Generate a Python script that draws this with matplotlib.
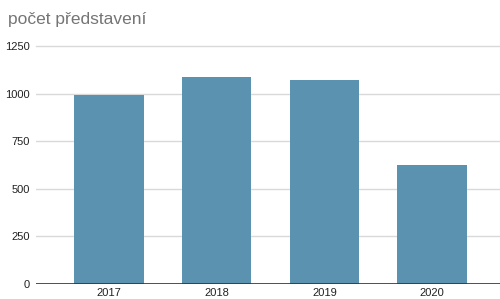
import matplotlib.pyplot as plt

years = ["2017", "2018", "2019", "2020"]
performances = [993, 1085, 1071, 626]
y_ticks = [0, 250, 500, 750, 1000, 1250]

plt.rcParams["font.family"] = ["Liberation Sans", "DejaVu Sans"]

fig = plt.figure(figsize=(5.0, 2.99), dpi=100)
ax = fig.add_axes([0.0714, 0.0502, 0.9286, 0.7958])

x = range(len(years))
ax.bar(x, performances, width=0.643, color="#5a92b0", zorder=2)

ax.set_xlim(-0.68, 3.63)
ax.set_ylim(0, 1250)
ax.set_yticks(y_ticks)
ax.set_xticks(list(x))
ax.set_xticklabels(years)
ax.yaxis.grid(True, color="#d9d9d9", lw=1, zorder=0)
ax.axhline(0, color="#333333", lw=1.2, zorder=3)

for s in ax.spines.values():
    s.set_visible(False)
ax.tick_params(length=0, labelsize=8, colors="#222222")
ax.tick_params(axis="y", pad=4)
ax.tick_params(axis="x", pad=3)
for lab in ax.get_yticklabels():
    lab.set_clip_on(False)
ax.yaxis.get_gridlines()[-1].set_clip_on(False)

fig.text(0.016, 0.935, "počet představení", fontsize=12.5, color="#757575",
         ha="left", va="center")

plt.savefig("out.png", dpi=100)
